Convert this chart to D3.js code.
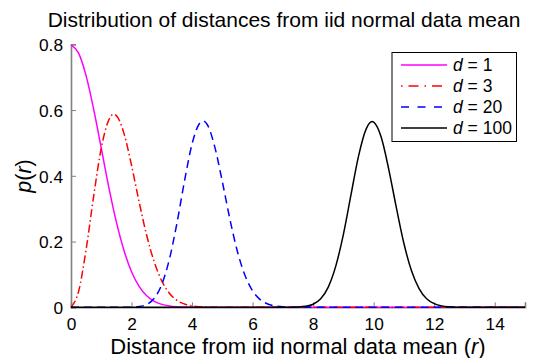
<!DOCTYPE html>
<html>
<head>
<meta charset="utf-8">
<script src="https://cdn.jsdelivr.net/npm/d3@7"></script>
<style>
  body { margin: 0; background: #fff; }
  svg { display: block; font-family: "Liberation Sans", Arial, Helvetica, sans-serif; }
</style>
</head>
<body>
<svg id="chart"></svg>
<script>
// values (distance r, density p(r))
const r_d1 = [0, 0.25, 0.5, 0.75, 1, 1.25, 1.5, 1.75, 2, 2.25, 2.5, 2.75, 3, 3.25, 3.5, 3.75, 4, 4.5, 15]
const p_d1 = [0.798, 0.773, 0.704, 0.602, 0.484, 0.365, 0.259, 0.173, 0.108, 0.0635, 0.035, 0.0182, 0.0089, 0.0041, 0.0017, 0.0007, 0.0003, 0, 0]

const r_d3 = [0, 0.25, 0.5, 0.75, 1, 1.25, 1.4, 1.5, 1.75, 2, 2.25, 2.5, 2.75, 3, 3.25, 3.5, 3.75, 4, 4.25, 4.5, 5, 15]
const p_d3 = [0, 0.048, 0.176, 0.339, 0.484, 0.570, 0.587, 0.583, 0.529, 0.432, 0.321, 0.219, 0.138, 0.080, 0.043, 0.021, 0.010, 0.004, 0.0017, 0.0007, 0, 0]

const r_d20 = [0, 1.75, 2, 2.25, 2.5, 2.75, 3, 3.25, 3.5, 3.75, 4, 4.25, 4.36, 4.5, 4.75, 5, 5.25, 5.5, 5.75, 6, 6.25, 6.5, 6.75, 7, 7.5, 8, 15]
const p_d20 = [0, 0, 0.0004, 0.0021, 0.0086, 0.0273, 0.0695, 0.146, 0.256, 0.384, 0.497, 0.560, 0.567, 0.556, 0.488, 0.382, 0.268, 0.169, 0.097, 0.050, 0.0235, 0.010, 0.0039, 0.0014, 0.0001, 0, 0]

const r_d100 = [0, 7, 7.25, 7.5, 7.75, 8, 8.25, 8.5, 8.75, 9, 9.25, 9.5, 9.75, 9.95, 10, 10.25, 10.5, 10.75, 11, 11.25, 11.5, 11.75, 12, 12.25, 12.5, 12.75, 13, 15]
const p_d100 = [0, 0, 0.0002, 0.0008, 0.0029, 0.0094, 0.026, 0.0615, 0.126, 0.222, 0.342, 0.460, 0.542, 0.565, 0.563, 0.517, 0.419, 0.303, 0.194, 0.111, 0.057, 0.026, 0.011, 0.004, 0.0014, 0.0004, 0.0001, 0]

const dims = [1, 3, 20, 100]
const xTicks = [0, 2, 4, 6, 8, 10, 12, 14]
const yTicks = [0, 0.2, 0.4, 0.6, 0.8]

const width = 550, height = 358
const plot = { left: 71, right: 525, top: 44.3, bottom: 307.3 }
const axisGrey = "#808080"

const series = [
    { d: dims[0], r: r_d1, p: p_d1, color: "#ff00ff", dash: null, legendDash: null },
    { d: dims[1], r: r_d3, p: p_d3, color: "#ff0000", dash: "8,3,1.5,3", legendDash: "1.5,6,10,6" },
    { d: dims[2], r: r_d20, p: p_d20, color: "#0000ff", dash: "8,5", legendDash: "8,8.5" },
    { d: dims[3], r: r_d100, p: p_d100, color: "#000000", dash: null, legendDash: null }
]

const svg = d3.select("#chart")
    .attr("width", width)
    .attr("height", height)
    .style("background-color", "#fff")

const x = d3.scaleLinear().domain([0, 15]).range([plot.left, plot.right])
const y = d3.scaleLinear().domain([0, 0.8]).range([plot.bottom, plot.top])

// axes: MATLAB style, ticks pointing inward, no box
const xAxis = svg.append("g")
    .attr("transform", `translate(0,${plot.bottom})`)
    .call(d3.axisBottom(x).tickValues(xTicks).tickSize(-5).tickPadding(8).tickFormat(d3.format("d")))
const yAxis = svg.append("g")
    .attr("transform", `translate(${plot.left},0)`)
    .call(d3.axisLeft(y).tickValues(yTicks).tickSize(-5).tickPadding(8).tickFormat(d => d === 0 ? "0" : d3.format(".1f")(d)))

for (const ax of [xAxis, yAxis]) {
    ax.select(".domain").attr("stroke", axisGrey).attr("stroke-width", 1.6)
    ax.selectAll(".tick line").attr("stroke", axisGrey).attr("stroke-width", 1)
    ax.selectAll(".tick text")
        .attr("fill", "#000")
        .style("font-family", "'Liberation Sans', Arial, sans-serif")
        .style("font-size", "17.3px")
}
xAxis.selectAll(".tick text").attr("dy", "0.85em")
yAxis.selectAll(".tick text").attr("dy", "0.36em")

// curves
const line = d3.line()
    .x(d => x(d[0]))
    .y(d => y(d[1]))
    .curve(d3.curveMonotoneX)

const curves = svg.append("g").attr("id", "curves")
series.forEach(s => {
    curves.append("path")
        .datum(d3.zip(s.r, s.p))
        .attr("d", line)
        .attr("fill", "none")
        .attr("stroke", s.color)
        .attr("stroke-width", 1.5)
        .attr("stroke-dasharray", s.dash)
})

// title and axis labels
svg.append("text")
    .attr("x", 284).attr("y", 27)
    .attr("text-anchor", "middle")
    .style("font-size", "21px")
    .text("Distribution of distances from iid normal data mean")

const xLabel = svg.append("text")
    .attr("x", 298).attr("y", 354)
    .attr("text-anchor", "middle")
    .style("font-size", "22px")
xLabel.append("tspan").text("Distance from iid normal data mean (")
xLabel.append("tspan").style("font-style", "italic").text("r")
xLabel.append("tspan").text(")")

const yLabel = svg.append("text")
    .attr("transform", "translate(31,176) rotate(-90)")
    .attr("text-anchor", "middle")
    .style("font-size", "21.5px")
yLabel.append("tspan").style("font-style", "italic").text("p")
yLabel.append("tspan").text("(")
yLabel.append("tspan").style("font-style", "italic").text("r")
yLabel.append("tspan").text(")")

// legend
const legend = svg.append("g").attr("id", "legend")
legend.append("rect")
    .attr("x", 392).attr("y", 52.5)
    .attr("width", 124.5).attr("height", 89)
    .attr("fill", "#fff")
    .attr("stroke", "#000")
    .attr("stroke-width", 1)

series.forEach((s, i) => {
    const ly = 65 + i * 21
    legend.append("line")
        .attr("x1", 401).attr("x2", 447)
        .attr("y1", ly).attr("y2", ly)
        .attr("stroke", s.color)
        .attr("stroke-width", 1.5)
        .attr("stroke-dasharray", s.legendDash)
    const t = legend.append("text")
        .attr("x", 453).attr("y", ly + 6)
        .style("font-size", "17.5px")
    t.append("tspan").style("font-style", "italic").text("d")
    t.append("tspan").text(` = ${s.d}`)
})
</script>
</body>
</html>
